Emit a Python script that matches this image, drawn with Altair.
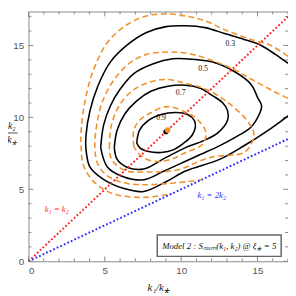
import altair as alt
import pandas as pd

# ---------------- data (units of k/k*) ----------------
# full model, solid black contours
b03_x = [17.5, 17.06, 16.23, 15.21, 14.12, 12.84, 11.57, 10.29, 9.01, 7.73, 6.45, 5.37, 4.54, 4.03, 3.77, 3.77, 4.03, 4.86, 6.26, 7.54, 9.01, 10.29, 12.52, 14.12, 15.72, 17.06, 17.5]
b03_y = [13.45, 13.73, 14.34, 15.02, 15.42, 15.83, 16.24, 16.37, 16.31, 15.90, 15.02, 13.86, 12.17, 10.47, 8.78, 7.76, 6.54, 5.73, 5.05, 4.85, 5.53, 6.27, 7.08, 8.03, 9.12, 10.14, 10.45]
b05_x = [4.73, 4.92, 5.37, 6.01, 6.90, 8.18, 9.46, 10.29, 12.01, 13.48, 14.57, 15.02, 15.27, 15.14, 14.57, 13.48, 12.40, 11.25, 10.29, 8.88, 7.54, 6.26, 5.18, 4.73]
b05_y = [7.90, 9.46, 10.81, 11.97, 13.05, 13.73, 14.07, 14.07, 13.86, 13.19, 12.31, 11.36, 10.81, 10.27, 9.32, 8.58, 7.97, 7.42, 6.95, 6.27, 5.66, 5.86, 6.54, 7.90]
b07_x = [5.62, 5.81, 6.33, 7.09, 8.05, 9.14, 10.29, 11.25, 12.08, 12.72, 13.04, 13.04, 12.40, 11.44, 10.29, 9.01, 7.54, 6.45, 5.81, 5.62]
b07_y = [7.90, 9.12, 10.27, 11.15, 11.83, 12.17, 12.24, 12.03, 11.49, 11.02, 10.47, 9.80, 8.92, 8.37, 7.90, 7.22, 6.41, 6.54, 7.08, 7.90]
b09_x = [7.09, 7.28, 7.86, 8.69, 9.65, 10.42, 10.86, 10.93, 10.73, 10.29, 9.52, 8.69, 7.86, 7.28, 7.09]
b09_y = [8.24, 9.12, 9.80, 10.20, 10.34, 10.20, 9.80, 9.32, 8.78, 8.31, 7.76, 7.56, 7.63, 7.90, 8.24]

# approximate model, dashed orange contours (the region below k1 = 2 k2 is left empty)
o03_x = [17.5, 17.06, 15.85, 14.57, 12.84, 11.57, 10.29, 9.01, 7.73, 6.45, 5.18, 4.22, 3.71, 3.45, 3.45, 3.58, 4.22, 5.50, 7.54, 9.40]
o03_y = [13.9, 14.20, 15.02, 15.42, 16.10, 16.71, 17.05, 17.19, 17.05, 16.44, 15.22, 13.19, 11.15, 9.12, 7.90, 6.75, 5.59, 4.71, 4.44, 4.70]
o05_x = [17.5, 17.06, 16.04, 14.63, 13.48, 11.89, 10.61, 9.07, 7.60, 6.58, 5.62, 4.86, 4.47, 4.35, 4.54, 5.18, 6.26, 7.54, 9.33, 10.50, 11.30]
o05_y = [11.0, 11.29, 11.83, 12.64, 13.32, 14.00, 14.41, 14.54, 14.34, 13.73, 12.64, 11.15, 9.46, 7.90, 6.75, 5.93, 5.45, 5.32, 5.42, 5.55, 5.67]
o07_x = [5.30, 5.43, 5.94, 6.77, 7.73, 8.88, 10.29, 11.89, 13.16, 14.31, 14.76, 14.63, 14.12, 11.89, 9.71, 7.60, 6.45, 5.69, 5.37, 5.30]
o07_y = [7.90, 9.46, 10.81, 11.83, 12.37, 12.64, 12.37, 11.83, 10.95, 9.80, 8.92, 8.24, 7.56, 7.22, 6.34, 6.20, 6.27, 6.75, 7.29, 7.90]
o09_x = [6.90, 6.90, 7.28, 7.92, 9.07, 10.35, 11.12, 11.63, 11.37, 10.29, 9.33, 8.24, 7.41, 6.90]
o09_y = [7.97, 9.12, 9.80, 10.27, 10.75, 10.34, 9.80, 8.92, 8.10, 7.56, 7.08, 6.95, 7.29, 7.97]

contour_labels = ["0.3", "0.5", "0.7", "0.9"]
label_x = [13.22, 11.44, 9.97, 8.69]
label_y = [15.08, 13.38, 11.69, 9.93]

peak_full = (9.0, 9.0)
peak_approx = (9.12, 9.12)

diag_k1 = [0, 17.5]
diag_k2 = [0, 17.5]
half_k1 = [0, 17.5]
half_k2 = [0, 8.75]

major_ticks = [0, 5, 10, 15]
x_minor = [1, 2, 3, 4, 6, 7, 8, 9, 11, 12, 13, 14, 16, 17]
y_minor = [1, 2, 3, 4, 6, 7, 8, 9, 11, 12, 13, 14, 16, 17]

X_MAX = 17.0
Y_MAX = 17.36
W, H = 266, 256

# ---------------- build tables ----------------
def contour_frame(sets, model):
    rows = []
    for lev, xs, ys in sets:
        for i, (a, b) in enumerate(zip(xs, ys)):
            rows.append({"k1": a, "k2": b, "level": lev, "i": i, "model": model})
    return pd.DataFrame(rows)

black_df = contour_frame([("0.3", b03_x, b03_y), ("0.5", b05_x, b05_y),
                          ("0.7", b07_x, b07_y), ("0.9", b09_x, b09_y)], "full")
orange_df = contour_frame([("0.3", o03_x, o03_y), ("0.5", o05_x, o05_y),
                           ("0.7", o07_x, o07_y), ("0.9", o09_x, o09_y)], "approx")

xs = alt.Scale(domain=[0, X_MAX], nice=False, zero=False)
ys = alt.Scale(domain=[0, Y_MAX], nice=False, zero=False)

xenc = alt.X("k1:Q", scale=xs,
             axis=alt.Axis(values=major_ticks, tickSize=0, domain=False, grid=False,
                           labelFont="Liberation Sans", labelFontSize=10, labelColor="#555",
                           labelPadding=5, title="k₁/k⁎", titleFont="Liberation Serif",
                           titleFontStyle="italic", titleFontWeight="normal", titleFontSize=11,
                           titleColor="#222", titlePadding=6))
yenc = alt.Y("k2:Q", scale=ys,
             axis=alt.Axis(values=major_ticks, tickSize=0, domain=False, grid=False,
                           labelFont="Liberation Sans", labelFontSize=10, labelColor="#555",
                           labelPadding=5, title=None))

base_black = alt.Chart(black_df).mark_line(color="black", strokeWidth=1.6, clip=True,
                                            interpolate="catmull-rom").encode(
    x=xenc, y=yenc, detail="level:N", order="i:Q")
base_orange = alt.Chart(orange_df).mark_line(color="#F0922B", strokeWidth=1.6,
                                              strokeDash=[6, 3.5], clip=True,
                                              interpolate="catmull-rom").encode(
    x="k1:Q", y="k2:Q", detail="level:N", order="i:Q")

red = alt.Chart(pd.DataFrame({"k1": diag_k1, "k2": diag_k2})).mark_line(
    color="#FF2020", strokeWidth=2, strokeDash=[1.8, 2.2], clip=True).encode(x="k1:Q", y="k2:Q")
blue = alt.Chart(pd.DataFrame({"k1": half_k1, "k2": half_k2})).mark_line(
    color="#2A2AFF", strokeWidth=2, strokeDash=[1.8, 2.2], clip=True).encode(x="k1:Q", y="k2:Q")

pts_black = alt.Chart(pd.DataFrame({"k1": [peak_full[0]], "k2": [peak_full[1]]})).mark_circle(
    color="black", size=28, opacity=1).encode(x="k1:Q", y="k2:Q")
pts_orange = alt.Chart(pd.DataFrame({"k1": [peak_approx[0]], "k2": [peak_approx[1]]})).mark_circle(
    color="#F0922B", size=34, opacity=1).encode(x="k1:Q", y="k2:Q")

lab = alt.Chart(pd.DataFrame({"k1": label_x, "k2": label_y, "t": contour_labels})).mark_text(
    font="Liberation Serif", fontSize=8, color="#111").encode(x="k1:Q", y="k2:Q", text="t:N")

line_labels = alt.Chart(pd.DataFrame({
    "k1": [1.85, 12.0], "k2": [3.63, 4.58], "t": ["k₁ = k₂", "k₁ = 2k₂"], "c": ["r", "b"]})
).mark_text(font="Liberation Serif", fontStyle="italic", fontSize=9).encode(
    x="k1:Q", y="k2:Q", text="t:N",
    color=alt.Color("c:N", scale=alt.Scale(domain=["r", "b"], range=["#FF3030", "#3030FF"]), legend=None))

# inward frame ticks
tick_df = pd.DataFrame({"v": major_ticks + x_minor, "major": [1] * 4 + [0] * len(x_minor)})
ytick_df = pd.DataFrame({"v": major_ticks + y_minor, "major": [1] * 4 + [0] * len(y_minor)})
tick_color = "#888"
bt_major = alt.Chart(tick_df[tick_df.major == 1]).mark_rule(color=tick_color).encode(
    x="v:Q", y=alt.value(H), y2=alt.value(H - 5))
bt_minor = alt.Chart(tick_df[tick_df.major == 0]).mark_rule(color=tick_color).encode(
    x="v:Q", y=alt.value(H), y2=alt.value(H - 3))
tt_major = alt.Chart(tick_df[tick_df.major == 1]).mark_rule(color=tick_color).encode(
    x="v:Q", y=alt.value(0), y2=alt.value(5))
tt_minor = alt.Chart(tick_df[tick_df.major == 0]).mark_rule(color=tick_color).encode(
    x="v:Q", y=alt.value(0), y2=alt.value(3))
lt_major = alt.Chart(ytick_df[ytick_df.major == 1]).mark_rule(color=tick_color).encode(
    y="v:Q", x=alt.value(0), x2=alt.value(5))
lt_minor = alt.Chart(ytick_df[ytick_df.major == 0]).mark_rule(color=tick_color).encode(
    y="v:Q", x=alt.value(0), x2=alt.value(3))
rt_major = alt.Chart(ytick_df[ytick_df.major == 1]).mark_rule(color=tick_color).encode(
    y="v:Q", x=alt.value(W), x2=alt.value(W - 5))
rt_minor = alt.Chart(ytick_df[ytick_df.major == 0]).mark_rule(color=tick_color).encode(
    y="v:Q", x=alt.value(W), x2=alt.value(W - 3))

# y-axis title as a fraction
ytitle_top = alt.Chart(pd.DataFrame({"t": ["k₂"]})).mark_text(
    font="Liberation Serif", fontStyle="italic", fontSize=10, color="#222", baseline="bottom").encode(
    text="t:N", x=alt.value(-17), y=alt.value(122))
ytitle_bot = alt.Chart(pd.DataFrame({"t": ["k⁎"]})).mark_text(
    font="Liberation Serif", fontStyle="italic", fontSize=10, color="#222", baseline="top").encode(
    text="t:N", x=alt.value(-17), y=alt.value(127))
ybar = alt.Chart(pd.DataFrame({"a": [0]})).mark_rule(color="#222", strokeWidth=0.8).encode(
    x=alt.value(-22), x2=alt.value(-11), y=alt.value(124.5))

# legend-like box
box = alt.Chart(pd.DataFrame({"a": [0]})).mark_rect(
    fill="white", stroke="#666", strokeWidth=1.5).encode(
    x=alt.value(132), x2=alt.value(259), y=alt.value(229), y2=alt.value(251))
box_text = alt.Chart(pd.DataFrame({"t": ["Model 2 : S꜀ₒₛₘ(k₁, k₂) @ ξ⁎ = 5"]})).mark_text(
    font="Liberation Serif", fontStyle="italic", fontSize=9, color="#111").encode(
    text="t:N", x=alt.value(195.5), y=alt.value(240.5))

chart = alt.layer(
    bt_major, bt_minor, tt_major, tt_minor, lt_major, lt_minor, rt_major, rt_minor,
    base_black, base_orange, red, blue, pts_black, pts_orange, lab, line_labels,
    ytitle_top, ytitle_bot, ybar, box, box_text
).properties(
    width=W, height=H,
    autosize=alt.AutoSizeParams(type="none"),
    padding={"left": 21, "top": 0, "right": 0, "bottom": 32},
).configure_view(stroke="#888", strokeWidth=1)

chart.save("out.html", embed_options={"renderer": "svg", "actions": False})
